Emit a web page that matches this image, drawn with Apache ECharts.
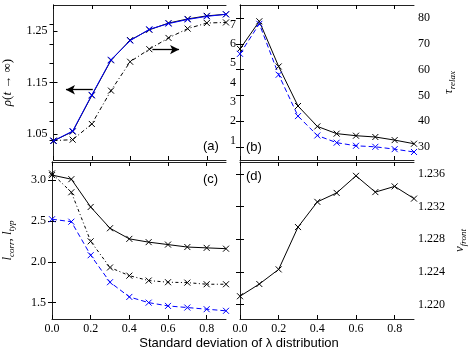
<!DOCTYPE html>
<html><head><meta charset="utf-8">
<script src="https://cdn.jsdelivr.net/npm/echarts@6/dist/echarts.min.js"></script>
<style>html,body{margin:0;padding:0;background:#fff}#c{width:471px;height:353px}</style>
</head><body><div id="c"></div>
<script>
// ---- data ----
const xs = [0.0, 0.1, 0.2, 0.3, 0.4, 0.5, 0.6, 0.7, 0.8, 0.9];
const xTicks = [0.0, 0.2, 0.4, 0.6, 0.8];
// panel (a)
const rhoBlack = [1.037, 1.055, 1.125, 1.193, 1.232, 1.252, 1.265, 1.273, 1.279, 1.282];
const rhoBlue  = [1.037, 1.056, 1.126, 1.194, 1.231, 1.253, 1.264, 1.272, 1.278, 1.282];
const rhoDot   = [1.00, 1.05, 1.86, 3.58, 5.07, 5.72, 6.30, 6.78, 7.07, 7.10];
const rhoTicks = [1.05, 1.15, 1.25];
const rightATicks = [1, 2, 3, 4, 5, 6, 7];
// panel (b)
const tauBlack = [68.0, 78.7, 61.2, 45.9, 38.0, 35.2, 34.4, 33.9, 32.7, 31.3];
const tauBlue  = [66.1, 77.7, 58.0, 42.0, 34.5, 31.7, 30.5, 30.1, 29.2, 28.1];
const tauTicks = [30, 40, 50, 60, 70, 80];
// panel (c)
const lBlack = [3.06, 3.01, 2.67, 2.41, 2.28, 2.24, 2.21, 2.18, 2.17, 2.16];
const lDot   = [3.08, 2.85, 2.25, 1.93, 1.83, 1.77, 1.75, 1.745, 1.725, 1.725];
const lBlue  = [2.52, 2.49, 2.08, 1.75, 1.57, 1.50, 1.46, 1.44, 1.42, 1.40];
const lTicks = [1.5, 2.0, 2.5, 3.0];
// panel (d)
const vFront = [1.2210, 1.2225, 1.2243, 1.2295, 1.2326, 1.2337, 1.2358, 1.2338, 1.2345, 1.2330];
const vTicks = [1.220, 1.224, 1.228, 1.232, 1.236];

const pairs = a => xs.map((x, i) => [x, a[i]]);
const SERIF = 'Liberation Serif';
const X_SYM = 'path://M0,0L10,10M10,0L0,10';

const grids = [
  {left: 52, top: 5, width: 174, height: 155},
  {left: 240, top: 5, width: 174, height: 155},
  {left: 52, top: 162, width: 174, height: 157},
  {left: 240, top: 162, width: 174, height: 157}
];
const spine = {show: true, lineStyle: {color: '#222', width: 1}};
function xAx(g, pos, labels) {
  return {
    type: 'value', gridIndex: g, position: pos, min: 0, max: 0.9,
    axisLine: spine, splitLine: {show: false},
    axisTick: {show: true, inside: true, length: 4, customValues: xTicks, lineStyle: {color: '#000'}},
    axisLabel: {show: labels, customValues: xTicks, formatter: v => v.toFixed(1),
      fontFamily: SERIF, fontSize: 12, color: '#000', margin: 4}
  };
}
function yAx(g, pos, min, max, ticks, labels, dec, name, gap) {
  return {
    type: 'value', gridIndex: g, position: pos, min: min, max: max,
    axisLine: spine, splitLine: {show: false},
    axisTick: {show: true, inside: true, length: 4, customValues: ticks, lineStyle: {color: '#000'}},
    axisLabel: {show: labels, customValues: ticks, formatter: v => v.toFixed(dec),
      fontFamily: SERIF, fontSize: 12, color: '#000', margin: pos === 'left' ? 6 : 4},
    name: name || '', nameLocation: 'middle', nameRotate: 90, nameGap: gap || 0,
    nameTextStyle: {fontFamily: SERIF, fontSize: 13, color: '#000',
      rich: {
        it: {fontFamily: SERIF, fontStyle: 'italic', fontSize: 13, lineHeight: 16, color: '#000'},
        n: {fontFamily: SERIF, fontSize: 13, lineHeight: 16, color: '#000'},
        sub: {fontFamily: SERIF, fontStyle: 'italic', fontSize: 9, lineHeight: 10, verticalAlign: 'bottom', color: '#000'}
      }}
  };
}

const xAxis = [
  xAx(0, 'bottom', false), xAx(0, 'top', false),
  xAx(1, 'bottom', false), xAx(1, 'top', false),
  xAx(2, 'bottom', true), xAx(2, 'top', false),
  xAx(3, 'bottom', true), xAx(3, 'top', false)
];
const yAxis = [
  yAx(0, 'left', 1.0, 1.3, rhoTicks, true, 2, '{it|ρ}{n|(}{it|t}{n| → ∞)}', 38),  // 0
  yAx(0, 'right', 0, 8, rightATicks, true, 0),                                    // 1
  yAx(1, 'right', 25, 85, tauTicks, true, 0, '{it|τ}{sub|relax}', 27),            // 2
  yAx(1, 'left', 25, 85, tauTicks, false, 0),                                    // 3
  yAx(2, 'left', 1.3, 3.22, lTicks, true, 1, '{it|l}{sub|corr}{n|, }{it|l}{sub|typ}', 36), // 4
  yAx(2, 'right', 1.3, 3.22, lTicks, false, 1),                                  // 5
  yAx(3, 'right', 1.2182, 1.2375, vTicks, true, 3, '{it|v}{sub|front}', 38),      // 6
  yAx(3, 'left', 1.2182, 1.2375, vTicks, false, 3)                               // 7
];

function line(data, xi, yi, color, type, extra) {
  return Object.assign({
    type: 'line', xAxisIndex: xi, yAxisIndex: yi, data: pairs(data),
    symbol: X_SYM, symbolSize: 6, showSymbol: true, silent: true,
    lineStyle: {color: color, width: 1, type: type},
    itemStyle: {color: 'rgba(0,0,0,0)', borderColor: color, borderWidth: 1},
    z: 2
  }, extra || {});
}
const arrowML = (p0, p1) => ({
  silent: true, symbol: ['none', 'arrow'], symbolSize: [7, 9], animation: false,
  label: {show: false}, lineStyle: {color: '#000', width: 1.3, type: 'solid'},
  data: [[{coord: p0}, {coord: p1}]]
});

const series = [
  line(rhoBlack, 0, 0, '#000', 'solid', {markLine: arrowML([0.205, 1.136], [0.065, 1.136])}),
  line(rhoBlue, 0, 0, '#0000ff', 'solid', {z: 3}),
  line(rhoDot, 0, 1, '#000', [4, 2.5, 1, 2.5], {markLine: arrowML([0.516, 5.70], [0.655, 5.70])}),
  line(tauBlack, 2, 2, '#000', 'solid'),
  line(tauBlue, 2, 2, '#0000ff', [5, 3]),
  line(lBlack, 4, 4, '#000', 'solid'),
  line(lDot, 4, 4, '#000', [3, 2.5, 1, 2.5]),
  line(lBlue, 4, 4, '#0000ff', [5, 3]),
  line(vFront, 6, 6, '#000', 'solid')
];

const ptext = (t, l, tp) => ({type: 'text', left: l, top: tp,
  style: {text: t, font: '13px "Liberation Sans"', fill: '#000'}});
const option = {
  animation: false,
  backgroundColor: '#fff',
  grid: grids,
  xAxis: xAxis,
  yAxis: yAxis,
  series: series,
  graphic: [
    ptext('(a)', 203, 140),
    ptext('(b)', 246, 141),
    ptext('(c)', 203, 173),
    ptext('(d)', 246, 170),
    {type: 'text', x: 239, y: 343,
      style: {text: 'Standard deviation of λ distribution', font: '13px "Liberation Sans"',
        fill: '#000', align: 'center', verticalAlign: 'middle'}}
  ]
};
const chart = echarts.init(document.getElementById('c'), null, {renderer: 'canvas'});
chart.setOption(option);
</script></body></html>
